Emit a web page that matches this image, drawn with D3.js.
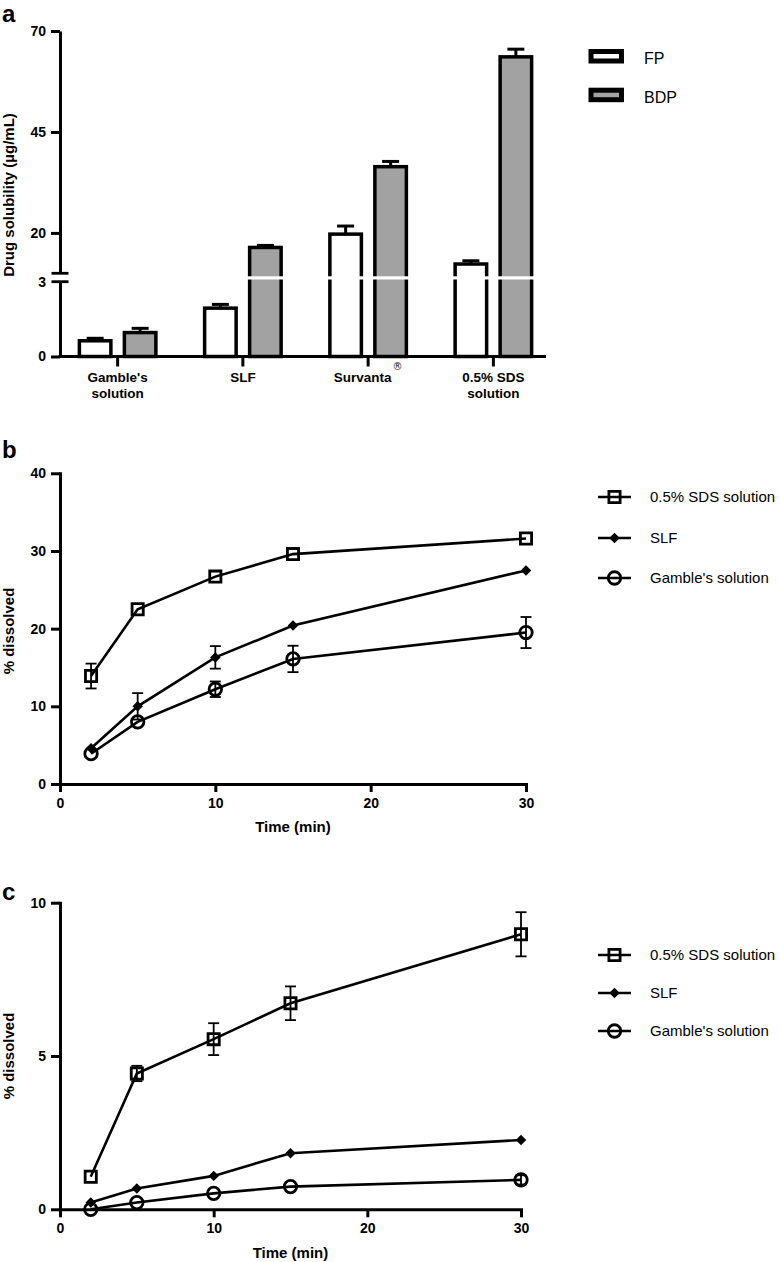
<!DOCTYPE html>
<html>
<head>
<meta charset="utf-8">
<script src="https://cdn.jsdelivr.net/npm/d3@7"></script>
<style>
html,body{margin:0;padding:0;background:#fff;}
svg{display:block;font-family:"Liberation Sans",Arial,Helvetica,sans-serif;}
</style>
</head>
<body>
<svg id="chart" width="780" height="1262"></svg>
<script>
// ---------- Panel a data ----------
const categories = ["Gamble's solution", "SLF", "Survanta®", "0.5% SDS solution"];
const categoryLines = [["Gamble's", "solution"], ["SLF"], ["Survanta"], ["0.5% SDS", "solution"]];
const barSeries = ["FP", "BDP"];
const fpMean = [0.63, 1.94, 19.7, 12.3];
const fpErr = [0.10, 0.15, 2.0, 0.8];
const bdpMean = [0.96, 16.4, 36.4, 63.6];
const bdpErr = [0.17, 0.5, 1.3, 1.9];
const yTicksUpper = [20, 45, 70];
const yTicksLower = [0, 3];

// ---------- Panels b & c data ----------
const times = [2, 5, 10, 15, 30];
const lineSeries = ["0.5% SDS solution", "SLF", "Gamble's solution"];
const sdsB = [13.9, 22.5, 26.7, 29.6, 31.6];
const sdsBErr = [1.6, 0, 0, 0, 0];
const slfB = [4.6, 10.0, 16.3, 20.4, 27.5];
const slfBErr = [0, 1.7, 1.45, 0, 0];
const gamB = [3.9, 8.0, 12.2, 16.1, 19.5];
const gamBErr = [0, 0, 1.0, 1.7, 2.0];
const sdsC = [1.06, 4.43, 5.55, 6.72, 8.97];
const sdsCErr = [0, 0.25, 0.52, 0.55, 0.72];
const slfC = [0.22, 0.68, 1.09, 1.83, 2.26];
const slfCErr = [0, 0, 0, 0, 0];
const gamC = [0.0, 0.22, 0.52, 0.74, 0.96];
const gamCErr = [0, 0, 0, 0, 0.15];
const xTicks = [0, 10, 20, 30];
const yTicksB = [0, 10, 20, 30, 40];
const yTicksC = [0, 5, 10];

const svg = d3.select("#chart");
const GRAY = "#a2a2a2";

function styleAxis(g, fs) {
  g.select(".domain").attr("stroke", "#000").attr("stroke-width", 3).attr("stroke-linecap", "square");
  g.selectAll(".tick line").attr("stroke", "#000").attr("stroke-width", 3);
  g.selectAll(".tick text").attr("fill", "#000").attr("font-size", fs).attr("font-weight", "bold")
    .attr("font-family", '"Liberation Sans",Arial,sans-serif');
}

// ================= Panel a =================
(function () {
  const ax = 60, base = 356.5;
  const yLow = d3.scaleLinear().domain([0, 3]).range([base, 281.7]);
  const yUp = d3.scaleLinear().domain([10, 70]).range([273.3, 31]);
  const yA = d3.scaleLinear().domain([0, 3, 10, 70]).range([base, 281.7, 273.3, 31]);
  const x0 = d3.scaleBand().domain(categories).range([55, 556]);
  const x1 = d3.scaleBand().domain(barSeries).range([0, 80]).paddingInner(0.2222);
  const off = (x0.bandwidth() - 80) / 2;
  const means = { FP: fpMean, BDP: bdpMean };
  const errs = { FP: fpErr, BDP: bdpErr };
  const fills = { FP: "#fff", BDP: GRAY };
  const sw = 3.5;

  const rows = [];
  categories.forEach((c, i) => barSeries.forEach(s => rows.push({ c, s, v: means[s][i], e: errs[s][i] })));

  const g = svg.append("g");
  rows.forEach(d => {
    const cx = x0(d.c) + off + x1(d.s) + x1.bandwidth() / 2;
    g.append("line").attr("x1", cx).attr("x2", cx).attr("y1", yA(d.v)).attr("y2", yA(d.v + d.e))
      .attr("stroke", "#000").attr("stroke-width", 3);
    g.append("line").attr("x1", cx - 8.5).attr("x2", cx + 8.5).attr("y1", yA(d.v + d.e)).attr("y2", yA(d.v + d.e))
      .attr("stroke", "#000").attr("stroke-width", 3);
  });
  g.selectAll("rect.bar").data(rows).join("rect").attr("class", "bar")
    .attr("x", d => x0(d.c) + off + x1(d.s) + sw / 2)
    .attr("width", x1.bandwidth() - sw)
    .attr("y", d => yA(d.v))
    .attr("height", d => yA(0) - yA(d.v))
    .attr("fill", d => fills[d.s]).attr("stroke", "#000").attr("stroke-width", sw);
  g.append("rect").attr("x", ax + 2).attr("width", 546 - ax).attr("y", 276.3).attr("height", 3.2).attr("fill", "#fff");

  const gl = g.append("g").attr("transform", `translate(${ax},0)`)
    .call(d3.axisLeft(yLow).tickValues([0]).tickSize(9).tickSizeOuter(0).tickPadding(5).tickFormat(d3.format("d")));
  styleAxis(gl, 14);
  gl.select(".domain").attr("stroke-linecap", "butt");
  const gu = g.append("g").attr("transform", `translate(${ax},0)`)
    .call(d3.axisLeft(yUp).tickValues(yTicksUpper).tickSize(9).tickSizeOuter(0).tickPadding(5).tickFormat(d3.format("d")));
  styleAxis(gu, 14);
  gu.select(".domain").attr("stroke-linecap", "butt");
  [yLow(3), yUp(10)].forEach(yy => {
    g.append("line").attr("x1", ax - 8.5).attr("x2", ax + 8.5).attr("y1", yy).attr("y2", yy)
      .attr("stroke", "#000").attr("stroke-width", 2.8);
  });
  g.append("text").attr("x", ax - 14).attr("y", yLow(yTicksLower[1])).attr("dy", "0.36em")
    .attr("text-anchor", "end").attr("font-size", 14).attr("font-weight", "bold").text(yTicksLower[1]);

  const gx = g.append("g").attr("transform", `translate(0,${base})`)
    .call(d3.axisBottom(x0).tickSize(10).tickSizeOuter(0).tickFormat(""));
  gx.select(".domain").remove();
  gx.selectAll(".tick line").attr("stroke", "#000").attr("stroke-width", 3);
  g.append("line").attr("x1", ax - 1.5).attr("x2", 546).attr("y1", base).attr("y2", base)
    .attr("stroke", "#000").attr("stroke-width", 3);
  categories.forEach((c, i) => {
    const cx = x0(c) + x0.bandwidth() / 2;
    const t = g.append("text").attr("text-anchor", "middle").attr("font-size", 13.5).attr("font-weight", "bold");
    categoryLines[i].forEach((ln, j) => {
      t.append("tspan").attr("x", cx).attr("y", 381.5 + j * 16.5).text(ln);
    });
    if (c.endsWith("®")) {
      t.append("tspan").attr("dx", 1).attr("dy", -12).attr("font-size", 10).attr("font-weight", "normal")
        .attr("fill", "#222").attr("font-family", '"DejaVu Sans",sans-serif').text("®");
    }
  });

  g.append("text").attr("transform", "translate(14,195) rotate(-90)").attr("text-anchor", "middle")
    .attr("font-size", 15).attr("font-weight", "bold").text("Drug solubility (µg/mL)");
  svg.append("text").attr("x", 2).attr("y", 21.5).attr("font-size", 24).attr("font-weight", "bold").text("a");

  const lg = svg.append("g");
  barSeries.forEach((s, i) => {
    const yy = 51.5 + i * 38.7;
    lg.append("rect").attr("x", 591).attr("y", yy).attr("width", 30.5).attr("height", 9.5)
      .attr("fill", fills[s]).attr("stroke", "#000").attr("stroke-width", 5);
    lg.append("text").attr("x", 644).attr("y", yy + 12.5).attr("font-size", 16).text(s);
  });
})();

// ================= Panels b & c =================
function linePanel(opts) {
  const { xr, yr, yDomain, yTicks, data, letter, letterY, titleY, ylabY, legendY } = opts;
  const x = d3.scaleLinear().domain([0, 30]).range(xr);
  const y = d3.scaleLinear().domain(yDomain).range(yr);
  const g = svg.append("g");

  const gy = g.append("g").attr("transform", `translate(${xr[0]},0)`)
    .call(d3.axisLeft(y).tickValues(yTicks).tickSize(9).tickSizeOuter(0).tickPadding(5).tickFormat(d3.format("d")));
  styleAxis(gy, 14);
  const gx = g.append("g").attr("transform", `translate(0,${yr[0]})`)
    .call(d3.axisBottom(x).tickValues(xTicks).tickSize(8).tickSizeOuter(0).tickPadding(6).tickFormat(d3.format("d")));
  styleAxis(gx, 14);

  const line = d3.line().x((d, i) => x(times[i])).y(d => y(d));
  const sym = {
    square: d3.symbol().type(d3.symbolSquare).size(125),
    diamond: d3.symbol().type(d3.symbolDiamond2).size(70),
    circle: d3.symbol().type(d3.symbolCircle).size(122)
  };

  data.forEach(s => {
    s.v.forEach((v, i) => {
      const e = s.e[i];
      if (!e) return;
      const cx = x(times[i]);
      g.append("line").attr("x1", cx).attr("x2", cx).attr("y1", y(v - e)).attr("y2", y(v + e))
        .attr("stroke", "#000").attr("stroke-width", 1.8);
      [v - e, v + e].forEach(vv => g.append("line").attr("x1", cx - 5.5).attr("x2", cx + 5.5)
        .attr("y1", y(vv)).attr("y2", y(vv)).attr("stroke", "#000").attr("stroke-width", 1.8));
    });
    g.append("path").attr("d", line(s.v)).attr("fill", "none").attr("stroke", "#000").attr("stroke-width", 2.6);
    g.selectAll(null).data(s.v).join("path")
      .attr("transform", (d, i) => `translate(${x(times[i])},${y(d)})`)
      .attr("d", sym[s.m]())
      .attr("fill", s.m === "diamond" ? "#000" : "none")
      .attr("stroke", s.m === "diamond" ? "none" : "#000")
      .attr("stroke-width", 2.8);
  });

  g.append("text").attr("x", (xr[0] + xr[1]) / 2).attr("y", titleY).attr("text-anchor", "middle")
    .attr("font-size", 15).attr("font-weight", "bold").text("Time (min)");
  g.append("text").attr("transform", `translate(14,${ylabY}) rotate(-90)`).attr("text-anchor", "middle")
    .attr("font-size", 15).attr("font-weight", "bold").text("% dissolved");
  svg.append("text").attr("x", 2).attr("y", letterY).attr("font-size", 24).attr("font-weight", "bold").text(letter);

  data.forEach((s, i) => {
    const yy = legendY[i];
    g.append("line").attr("x1", 598).attr("x2", 631).attr("y1", yy).attr("y2", yy)
      .attr("stroke", "#000").attr("stroke-width", 2.6);
    g.append("path").attr("transform", `translate(614.5,${yy})`).attr("d", sym[s.m]())
      .attr("fill", s.m === "diamond" ? "#000" : "none")
      .attr("stroke", s.m === "diamond" ? "none" : "#000").attr("stroke-width", 2.8);
    g.append("text").attr("x", 650).attr("y", yy + 5.3).attr("font-size", 15).text(s.name);
  });
}

linePanel({
  xr: [60, 526], yr: [784, 473.3], yDomain: [0, 40], yTicks: yTicksB,
  data: [
    { name: lineSeries[0], v: sdsB, e: sdsBErr, m: "square" },
    { name: lineSeries[1], v: slfB, e: slfBErr, m: "diamond" },
    { name: lineSeries[2], v: gamB, e: gamBErr, m: "circle" }
  ],
  letter: "b", letterY: 458, titleY: 832, ylabY: 631, legendY: [497, 538, 578]
});

linePanel({
  xr: [60, 521], yr: [1209.3, 902.7], yDomain: [0, 10], yTicks: yTicksC,
  data: [
    { name: lineSeries[0], v: sdsC, e: sdsCErr, m: "square" },
    { name: lineSeries[1], v: slfC, e: slfCErr, m: "diamond" },
    { name: lineSeries[2], v: gamC, e: gamCErr, m: "circle" }
  ],
  letter: "c", letterY: 900, titleY: 1258, ylabY: 1056, legendY: [955, 993, 1031]
});
</script>
</body>
</html>
